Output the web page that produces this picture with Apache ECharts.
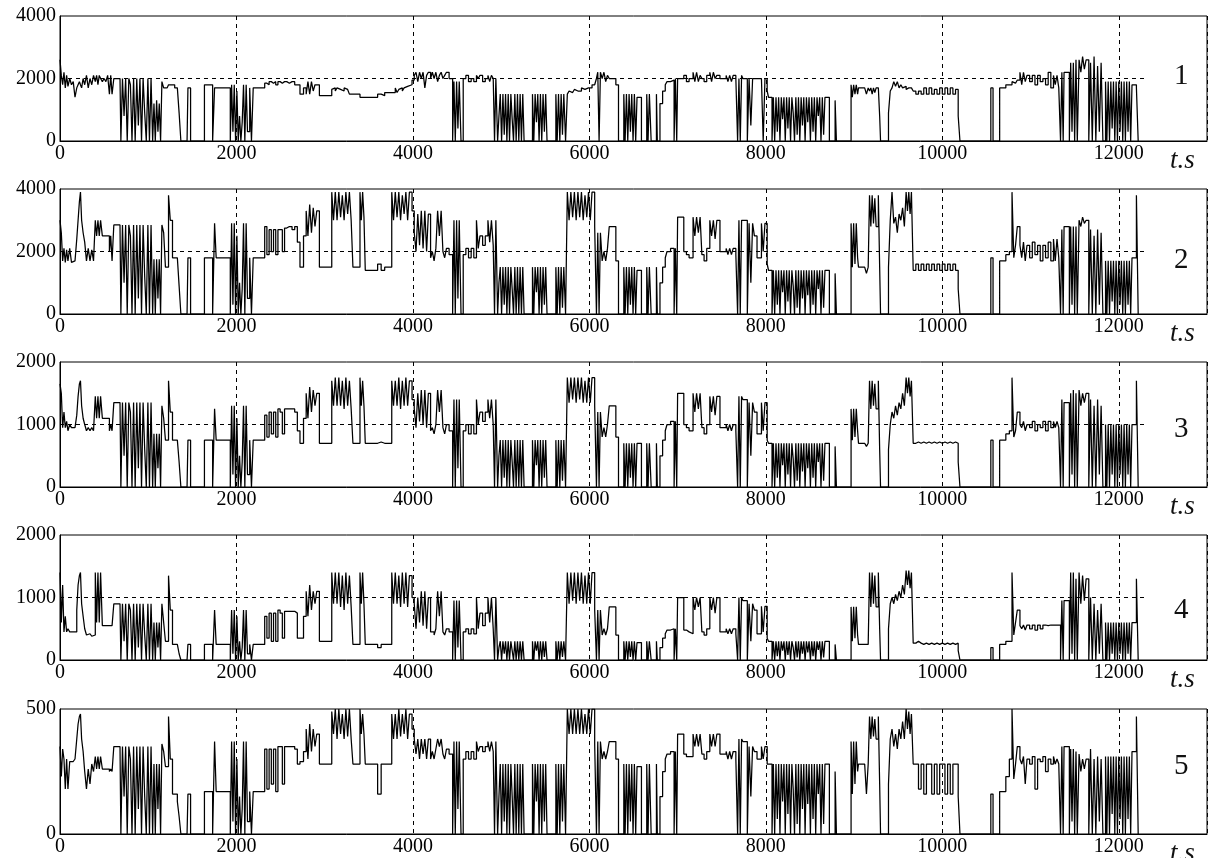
<!DOCTYPE html>
<html>
<head>
<meta charset="utf-8">
<script src="https://cdn.jsdelivr.net/npm/echarts@6/dist/echarts.min.js"></script>
<style>
  html, body { margin: 0; padding: 0; background: #fff; }
  #main { width: 1210px; height: 858px; }
</style>
</head>
<body>
<div id="main"></div>
<script>
// time grid, seconds (shared by the five traces, each value holds until the next time)
const T = [
  0,15,30,45,60,75,90,110,130,150,
  170,190,205,220,232,245,262,280,300,320,
  340,360,380,400,415,430,445,460,480,500,
  520,540,560,575,590,610,630,650,665,680,
  690,708,726,744,762,780,798,816,834,852,
  870,888,906,924,942,960,978,996,1014,1032,
  1050,1065,1080,1095,1110,1125,1140,1155,1175,1195,
  1215,1230,1250,1275,1300,1330,1350,1370,1440,1450,
  1480,1637,1730,1752,1770,1930,1945,1960,1975,1990,
  2005,2020,2035,2050,2065,2080,2095,2110,2125,2150,
  2170,2190,2320,2345,2370,2395,2420,2445,2470,2495,
  2520,2545,2570,2600,2630,2660,2690,2720,2760,2790,
  2810,2830,2850,2870,2890,2910,2940,3080,3100,3120,
  3140,3160,3180,3200,3220,3240,3260,3280,3300,3320,
  3400,3415,3430,3445,3460,3600,3640,3680,3760,3780,
  3800,3820,3840,3860,3880,3900,3920,3940,3960,3990,
  4015,4035,4055,4075,4095,4115,4135,4155,4175,4200,
  4220,4240,4260,4280,4300,4320,4340,4360,4380,4410,
  4450,4465,4480,4495,4510,4525,4545,4570,4600,4630,
  4660,4690,4720,4740,4760,4790,4820,4850,4870,4890,
  4910,4925,4940,4960,4975,4990,5005,5020,5035,5050,
  5065,5080,5095,5110,5125,5140,5155,5170,5185,5200,
  5215,5230,5245,5260,5355,5370,5385,5400,5415,5430,
  5445,5460,5475,5490,5505,5520,5620,5635,5650,5665,
  5680,5695,5710,5730,5750,5770,5790,5810,5830,5850,
  5870,5890,5910,5930,5950,5970,5990,6010,6030,6060,
  6080,6095,6110,6125,6145,6165,6185,6205,6225,6300,
  6330,6390,6405,6420,6435,6450,6465,6480,6495,6510,
  6525,6540,6590,6650,6665,6680,6700,6760,6770,6800,
  6830,6860,6880,6920,6960,6975,6990,7000,7070,7100,
  7130,7175,7195,7215,7235,7255,7275,7300,7330,7365,
  7385,7405,7425,7445,7480,7550,7570,7590,7610,7630,
  7660,7680,7695,7710,7725,7740,7790,7810,7830,7850,
  7870,7900,7950,7970,7990,8015,8030,8070,8085,8100,
  8115,8130,8145,8160,8175,8190,8205,8220,8235,8250,
  8265,8280,8295,8310,8325,8340,8355,8370,8385,8400,
  8415,8430,8445,8460,8475,8490,8505,8520,8535,8550,
  8565,8580,8595,8610,8625,8640,8655,8670,8690,8720,
  8740,8785,8800,8966,8980,8995,9010,9025,9040,9050,
  9120,9140,9160,9175,9190,9205,9220,9235,9250,9275,
  9290,9300,9390,9410,9430,9450,9470,9490,9510,9530,
  9550,9570,9590,9605,9620,9635,9650,9670,9700,9730,
  9760,9790,9820,9850,9880,9910,9940,9970,10000,10030,
  10060,10090,10120,10150,10180,10200,10550,10575,10650,10720,
  10760,10790,10810,10830,10850,10880,10900,10920,10940,10960,
  10990,11020,11050,11080,11110,11140,11170,11200,11230,11260,
  11280,11300,11320,11340,11355,11370,11380,11440,11455,11470,
  11485,11500,11515,11530,11550,11570,11590,11610,11630,11660,
  11680,11700,11720,11740,11760,11780,11800,11820,11850,11865,
  11880,11895,11910,11925,11940,11955,11970,11985,12000,12015,
  12030,12045,12060,12075,12090,12105,12120,12135,12150,12200,
  12220
];

// trace 1
const P1 = [
  2600,2100,1800,2200,1700,2100,1750,2000,1800,1900,
  1400,1700,1800,1900,1800,1700,2000,1800,2100,1700,
  2000,1800,2100,1900,2100,1800,2100,2000,1900,2000,
  1900,2100,1500,2100,1500,2000,2000,2000,2000,2000,
  0,2000,800,2000,0,2000,1800,0,2000,0,
  2000,500,2000,0,2000,900,0,2000,0,2000,
  0,1200,0,1300,300,1200,0,1900,1700,1700,
  1700,1800,1800,1800,1700,1700,900,0,0,1700,
  0,1800,0,1700,1700,0,1800,300,1800,0,
  1600,0,800,0,600,1800,0,1800,300,1700,
  0,1700,1850,1800,1900,1850,1900,1800,1900,1850,
  1900,1900,1850,1900,1900,1800,1800,1500,1700,1500,
  1900,1500,1900,1600,1800,1800,1450,1650,1700,1600,
  1700,1650,1700,1600,1700,1650,1600,1500,1500,1500,
  1400,1400,1400,1400,1400,1500,1450,1550,1600,1550,
  1700,1550,1650,1700,1600,1700,1750,1700,1800,1950,
  2100,2200,1900,2200,2000,2200,1700,2100,2200,2000,
  2200,2000,2200,1900,2100,2200,2000,2100,2200,2000,
  0,1900,0,1900,400,1900,0,2000,2100,1900,
  2000,1900,2100,2000,2100,1900,2000,2100,1900,2100,
  2000,0,2000,0,800,1500,0,1500,200,1500,
  0,1500,0,1500,700,0,1500,0,1500,0,
  1500,0,1500,0,1500,0,1500,600,1500,0,
  1500,0,1500,300,1500,0,1500,0,1500,0,
  1500,200,1500,0,1500,1600,1550,1600,1650,1600,
  1650,1600,1700,1650,1700,1700,1750,1700,1800,1800,
  2000,2200,0,2200,2000,2200,1900,2100,2000,1800,
  0,1500,0,1500,0,1500,300,1500,0,1500,
  0,1400,0,1500,0,1500,0,1500,0,1200,
  1600,1800,1900,1950,0,2000,0,2000,2100,1900,
  2000,2200,1900,2200,1900,2100,2000,1900,2100,2200,
  1900,2200,2000,2100,2000,2100,1900,2100,1900,2100,
  2000,0,2000,0,2100,2000,0,2000,500,2000,
  2000,2000,2000,0,2000,1600,1400,0,1400,0,
  1400,300,1400,0,1400,700,1400,0,1400,400,
  1400,0,1400,900,0,1400,200,1400,0,1400,
  500,1400,0,1400,600,1400,0,1400,300,1400,
  0,1400,800,1400,0,1400,200,1400,1400,0,
  0,1300,0,1800,1400,1800,1500,1800,1500,1700,
  1700,1500,1700,1600,1700,1500,1700,1550,1700,1700,
  800,0,900,1600,1700,1900,1750,1900,1700,1800,
  1700,1750,1650,1700,1650,1700,1700,1600,1500,1600,
  1500,1700,1500,1700,1500,1650,1500,1700,1500,1700,
  1500,1700,1500,1650,800,0,1700,0,1700,1800,
  1800,1900,1850,1900,1950,2200,1800,2200,1900,2100,
  1900,2100,1800,2100,1900,2000,1800,2200,1700,2100,
  1800,2100,1700,0,2200,0,2200,0,2500,300,
  2500,0,2600,0,2600,2200,2700,2300,2600,0,
  2500,0,2700,0,2400,300,2500,0,1900,0,
  1900,0,1900,400,1900,0,1900,0,1900,300,
  1900,0,1900,0,1900,300,1900,0,1800,1700,
  0
];

// trace 2
const P2 = [
  3000,2600,1700,2100,1650,2050,1700,2100,1650,1700,
  1650,2400,3000,3600,3900,3000,2600,2300,1700,2100,
  1700,2050,1700,3000,2500,3000,2500,3000,2500,2500,
  2500,2500,2000,2500,1700,2850,2850,2850,2850,2850,
  0,2850,1000,2850,0,2850,2500,0,2850,0,
  2850,500,2850,0,2850,1200,0,2850,0,2850,
  0,1750,0,1750,500,1750,0,2850,2600,1500,
  1500,3800,3000,1800,1800,1800,900,0,0,1800,
  0,1800,0,2900,1800,0,2900,300,2900,0,
  2500,0,1000,0,800,2900,0,2900,500,1800,
  0,1800,2800,1900,2700,2000,2700,1900,2700,2700,
  2000,2750,2800,2800,2700,2800,2300,1500,2500,3300,
  2500,3500,2600,3400,2800,3300,1500,3900,3000,3900,
  3000,3900,3100,3800,3000,3900,3200,3900,3000,1500,
  3900,3000,3900,3100,1400,1600,1400,1500,3900,3000,
  3900,3100,3900,3000,3800,3200,3900,3000,3900,3300,
  2600,2000,3200,2200,3300,2100,3300,2000,3200,1800,
  2000,1700,2100,3300,2500,3300,2000,1800,2100,1900,
  0,3000,0,3000,500,3000,0,1900,2100,1800,
  2100,1800,3000,2100,2500,2200,2500,3000,2300,3000,
  2200,0,3000,0,1000,1500,0,1500,300,1500,
  0,1500,0,1500,800,0,1500,0,1500,0,
  1500,0,1500,0,1500,0,1500,700,1500,0,
  1500,0,1500,300,1500,0,1500,0,1500,0,
  1500,200,1500,0,3900,3000,3900,3100,3900,3000,
  3900,3100,3900,3000,3800,3100,3900,3000,3900,2800,
  0,2600,0,2600,1700,2000,1700,2100,2800,1700,
  0,1500,0,1500,0,1500,300,1500,0,1500,
  0,1400,0,1500,0,1500,0,1500,0,1000,
  1500,1800,2000,2100,0,2100,0,3100,2000,1900,
  1800,3100,2500,3100,2600,3100,1900,1700,2100,3000,
  2500,3000,2400,3000,2000,2100,1900,2100,1900,2100,
  1900,0,3000,0,3000,3000,0,2900,1000,2900,
  2500,1800,2900,2000,2900,1600,1400,0,1400,0,
  1400,300,1400,0,1400,700,1400,0,1400,400,
  1400,0,1400,900,0,1400,200,1400,0,1400,
  500,1400,0,1400,600,1400,0,1400,300,1400,
  0,1400,800,1400,0,1400,200,1400,1400,0,
  0,1300,0,2900,1500,2900,1600,2900,1800,1500,
  1500,1300,1500,3800,2800,3800,2900,3700,2800,3800,
  1500,0,1500,3000,3900,2900,3100,2600,3200,3000,
  3400,2800,3900,3300,3900,3200,3900,1400,1600,1400,
  1600,1400,1600,1400,1600,1400,1600,1400,1600,1400,
  1600,1400,1600,1400,800,0,1800,0,1700,1900,
  2000,3900,1800,2200,2800,2200,1800,2300,1700,2200,
  1800,2300,1900,2200,1700,2200,1800,2300,1700,2400,
  1700,2400,1800,0,2700,0,2800,0,2800,300,
  2800,0,2800,0,3000,2800,3100,2900,3000,0,
  2700,0,2500,0,2700,300,2600,0,1700,0,
  1700,0,1700,400,1700,0,1700,0,1700,300,
  1700,0,1700,0,1700,300,1700,0,1800,3800,
  0
];

// trace 3
const P3 = [
  1650,1500,950,1200,950,1050,900,1000,950,950,
  950,1150,1450,1650,1700,1300,1100,1000,900,950,
  900,950,900,1450,1100,1450,1100,1450,1100,1100,
  1100,1100,900,1000,900,1350,1350,1350,1350,1350,
  0,1350,500,1350,0,1350,1200,0,1350,0,
  1350,300,1350,0,1350,600,0,1350,0,1350,
  0,850,0,850,300,850,0,1300,1100,750,
  750,1700,1200,750,750,750,400,0,0,750,
  0,750,0,1250,750,0,1300,200,1300,0,
  1100,0,500,0,400,1300,0,1300,200,750,
  0,750,1150,800,1200,850,1200,800,1250,1200,
  850,1250,1250,1250,1250,1200,900,700,1100,1500,
  1100,1600,1200,1550,1300,1500,700,1700,1300,1750,
  1300,1750,1300,1700,1250,1750,1300,1700,1250,700,
  1750,1300,1700,1300,700,720,700,700,1700,1300,
  1700,1300,1750,1250,1700,1300,1750,1300,1700,1400,
  1250,950,1500,1050,1550,1000,1550,950,1500,900,
  950,850,1000,1550,1200,1550,950,850,1000,900,
  0,1400,0,1400,300,1400,0,900,1000,850,
  1000,850,1400,1000,1200,1050,1200,1400,1100,1400,
  1000,0,1400,0,500,750,0,750,150,750,
  0,750,0,750,400,0,750,0,750,0,
  750,0,750,0,750,0,750,350,750,0,
  750,0,750,150,750,0,750,0,750,0,
  750,100,750,0,1750,1350,1750,1400,1750,1350,
  1750,1400,1750,1350,1700,1350,1750,1350,1750,1300,
  0,1200,0,1200,800,950,800,1000,1300,800,
  0,700,0,700,0,700,150,700,0,700,
  0,700,0,700,0,700,0,700,0,500,
  750,900,1000,1050,0,1050,0,1500,1000,950,
  900,1500,1200,1500,1250,1500,950,850,1000,1450,
  1200,1450,1150,1450,950,1000,900,1000,900,1000,
  900,0,1450,0,1450,1400,0,1350,500,1350,
  1200,850,1350,900,1350,750,700,0,700,0,
  700,150,700,0,700,350,700,0,700,200,
  700,0,700,450,0,700,100,700,0,700,
  250,700,0,700,300,700,0,700,150,700,
  0,700,400,700,0,700,100,700,700,0,
  0,650,0,1250,750,1250,800,1250,900,700,
  700,650,700,1700,1250,1700,1300,1650,1250,1700,
  600,0,600,1000,1200,1100,1300,1150,1350,1250,
  1500,1300,1750,1500,1750,1450,1700,700,720,700,
  720,700,720,700,720,700,720,700,720,700,
  720,700,720,700,400,0,750,0,750,850,
  900,1750,800,900,1200,1000,950,1050,900,1000,
  950,1050,900,1000,950,1050,900,1050,950,1050,
  950,1050,950,0,1400,0,1350,0,1500,200,
  1550,0,1500,0,1550,1300,1500,1350,1500,0,
  1400,0,1300,0,1400,200,1300,0,1000,0,
  1000,0,1000,200,1000,0,1000,0,1000,200,
  1000,0,1000,0,1000,200,1000,0,1000,1700,
  0
];

// trace 4
const P4 = [
  1400,600,1200,450,700,450,500,450,450,450,
  450,800,1200,1350,1400,900,700,500,400,420,
  400,380,400,1400,600,1400,600,1400,550,550,
  550,550,550,550,550,900,900,900,900,900,
  0,900,300,900,0,900,800,0,900,0,
  900,200,900,0,900,400,0,900,0,900,
  0,600,0,600,200,600,0,900,600,300,
  300,1350,800,250,250,250,100,0,0,250,
  0,250,0,800,250,0,800,100,800,0,
  700,0,300,0,200,800,0,800,100,250,
  0,250,700,350,750,300,750,300,800,750,
  350,780,780,780,780,750,350,350,700,1100,
  700,1200,800,1100,900,1100,300,1400,900,1400,
  900,1400,850,1350,800,1400,900,1350,850,250,
  1400,900,1400,900,250,200,250,250,1400,900,
  1400,900,1350,850,1400,900,1400,850,1350,1000,
  900,500,1000,600,1100,550,1100,500,1000,450,
  450,400,500,1100,700,1100,450,400,500,450,
  0,950,0,950,200,950,0,450,500,420,
  500,420,1000,500,750,550,750,1000,600,1000,
  500,0,1000,0,200,300,0,300,100,300,
  0,300,0,300,150,0,300,0,300,0,
  300,0,300,0,300,0,300,150,300,0,
  300,0,300,50,300,0,300,0,300,0,
  300,50,300,0,1400,900,1400,950,1400,900,
  1400,950,1400,900,1350,900,1400,900,1400,800,
  0,800,0,800,400,500,400,500,850,400,
  0,300,0,300,0,300,50,300,0,300,
  0,280,0,300,0,300,0,300,0,200,
  350,420,480,500,0,500,0,1000,480,450,
  420,1000,800,1000,850,1000,450,400,500,1000,
  800,1000,750,1000,450,500,420,500,420,500,
  420,0,1000,0,1000,950,0,900,300,900,
  800,420,860,450,860,350,300,0,300,0,
  300,60,300,0,300,150,300,0,300,80,
  300,0,300,200,0,300,40,300,0,300,
  100,300,0,300,120,300,0,300,60,300,
  0,300,160,300,0,300,40,300,300,0,
  0,250,0,850,300,850,350,850,400,250,
  250,250,250,1400,850,1400,900,1350,850,1400,
  500,0,500,900,1000,900,1050,950,1100,1000,
  1200,1050,1430,1200,1430,1150,1400,270,300,270,
  250,270,250,270,250,270,250,270,250,270,
  250,270,250,270,150,0,200,0,250,300,
  300,1400,400,600,800,550,500,560,480,560,
  500,560,480,560,500,560,550,560,560,560,
  560,560,560,0,950,0,950,0,1400,100,
  1400,0,1300,0,1400,900,1350,950,1300,0,
  1000,0,900,0,800,100,900,0,600,0,
  600,0,600,100,600,0,600,0,600,100,
  600,0,600,0,600,100,600,0,600,1300,
  0
];

// trace 5
const P5 = [
  350,230,340,300,180,300,180,290,290,290,
  300,380,440,470,480,380,330,250,180,260,
  200,280,250,310,260,310,260,310,260,260,
  260,260,250,260,250,350,350,350,350,350,
  0,350,150,350,0,350,300,0,350,0,
  350,100,350,0,350,150,0,350,0,350,
  0,280,0,280,100,280,0,360,330,270,
  270,470,300,160,160,130,70,0,0,160,
  0,170,0,370,170,0,370,50,370,0,
  300,0,150,0,100,370,0,370,50,170,
  0,170,340,180,340,200,340,170,350,350,
  200,350,350,350,350,340,280,290,330,420,
  300,440,330,420,350,400,280,490,400,500,
  380,500,400,480,380,500,390,500,380,280,
  500,400,480,400,280,160,280,280,480,380,
  480,380,500,390,480,400,500,380,480,420,
  380,320,380,300,380,320,380,300,380,300,
  330,300,340,380,350,380,320,300,340,320,
  0,370,0,370,100,370,0,300,330,300,
  330,300,370,330,350,330,350,370,330,370,
  330,0,370,0,150,280,0,280,50,280,
  0,280,0,280,150,0,280,0,280,0,
  280,0,280,0,280,0,280,130,280,0,
  280,0,280,50,280,0,280,0,280,0,
  280,50,280,0,500,400,500,400,500,400,
  500,400,500,400,480,400,500,400,500,360,
  0,370,0,370,300,330,300,330,370,300,
  0,280,0,280,0,280,50,280,0,280,
  0,270,0,280,0,280,0,280,0,150,
  250,300,320,330,0,330,0,400,320,310,
  310,400,350,400,350,400,320,300,330,400,
  350,400,350,400,320,330,300,330,300,330,
  300,0,380,0,380,370,0,350,150,350,
  330,300,350,300,350,280,280,0,280,0,
  280,60,280,0,280,130,280,0,280,80,
  280,0,280,180,0,280,40,280,0,280,
  100,280,0,280,120,280,0,280,60,280,
  0,280,160,280,0,280,40,280,280,0,
  0,250,0,370,160,370,200,370,250,280,
  280,160,280,470,380,470,390,460,380,470,
  200,0,200,380,420,350,400,340,420,380,
  450,380,500,420,490,400,480,280,280,180,
  280,160,280,280,160,280,160,280,280,160,
  280,160,280,280,150,0,160,0,170,230,
  300,500,220,280,350,300,280,310,200,300,
  280,310,180,300,290,310,250,300,280,310,
  280,300,280,0,350,0,350,0,340,50,
  340,0,330,0,320,250,300,260,300,0,
  340,0,300,0,310,50,300,0,310,0,
  310,0,310,80,310,0,310,0,310,60,
  310,0,310,0,310,60,310,0,330,470,
  0
];

const yMax = [4000, 4000, 2000, 2000, 500];
const yStep = [2000, 2000, 1000, 1000, 500];
const midLine = [2000, 2000, 1000, 1000, null];
const panelLabels = ['1', '2', '3', '4', '5'];
const xTicks = [0, 2000, 4000, 6000, 8000, 10000, 12000];

const traces = [P1, P2, P3, P4, P5];
const tops = [16, 189, 362, 535, 709];
const numY = [78, 262, 431, 612, 768];
const H = 125;
const font = 'Liberation Serif, Times New Roman, serif';

traces.forEach((p, i) => {
  if (p.length !== T.length) console.log('length mismatch trace ' + (i + 1), p.length, T.length);
});

const chart = echarts.init(document.getElementById('main'), null, { renderer: 'canvas' });

const grid = [], xAxis = [], yAxis = [], series = [], graphic = [];
traces.forEach((p, i) => {
  grid.push({
    left: 60, top: tops[i], height: H, right: -3,
    show: true, borderColor: '#000', borderWidth: 1
  });
  xAxis.push({
    type: 'value', gridIndex: i, min: 0, max: 13000, interval: 2000,
    axisLine: { show: true, lineStyle: { color: '#000', width: 1 } },
    axisTick: { show: false },
    axisLabel: {
      color: '#000', fontFamily: font, fontSize: 20, margin: 3,
      formatter: v => (xTicks.indexOf(v) >= 0 ? String(v) : '')
    },
    splitLine: { show: true, lineStyle: { color: '#000', type: [4, 4], width: 1 } }
  });
  yAxis.push({
    type: 'value', gridIndex: i, min: 0, max: yMax[i], interval: yStep[i],
    axisLine: { show: true, lineStyle: { color: '#000', width: 1 } },
    axisTick: { show: false },
    axisLabel: {
      color: '#000', fontFamily: font, fontSize: 20, margin: 4,
      formatter: v => String(v)
    },
    splitLine: { show: false }
  });
  const s = {
    type: 'line', xAxisIndex: i, yAxisIndex: i,
    data: T.map((t, k) => [t, p[k]]),
    step: 'end', showSymbol: false, symbol: 'none',
    lineStyle: { color: '#000', width: 1.25 },
    animation: false, silent: true
  };
  if (midLine[i] !== null) {
    s.markLine = {
      silent: true, symbol: 'none', label: { show: false },
      lineStyle: { color: '#000', type: [4, 4], width: 1 },
      data: [[{ coord: [0, midLine[i]] }, { coord: [12320, midLine[i]] }]]
    };
  }
  series.push(s);

  graphic.push({
    type: 'text', left: 1174, top: numY[i] - 16,
    style: { text: panelLabels[i], font: '29px ' + font, fill: '#111' }
  });
  graphic.push({
    type: 'text', left: 1170, top: tops[i] + H + 6,
    style: { text: 't.s', font: 'italic 27px ' + font, fill: '#111' }
  });
});

chart.setOption({
  animation: false,
  backgroundColor: '#fff',
  grid: grid, xAxis: xAxis, yAxis: yAxis, series: series, graphic: graphic
});
</script>
</body>
</html>
